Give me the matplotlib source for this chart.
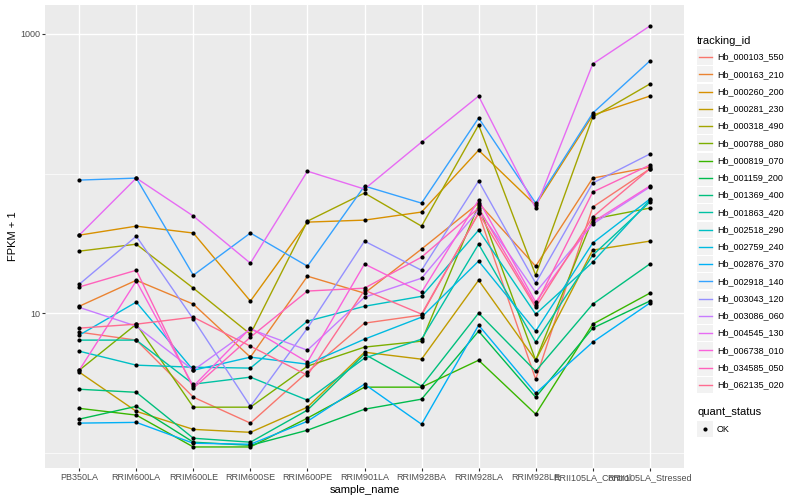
import matplotlib
matplotlib.use("Agg")
import matplotlib.pyplot as plt
import numpy as np
from matplotlib.lines import Line2D
from matplotlib.patches import Rectangle
from matplotlib.ticker import FixedLocator, NullFormatter

plt.rcParams["font.family"] = ["Liberation Sans", "DejaVu Sans"]

samples = ["PB350LA", "RRIM600LA", "RRIM600LE", "RRIM600SE", "RRIM600PE", "RRIM901LA",
           "RRIM928BA", "RRIM928LA", "RRIM928LE", "RRII105LA_Control", "RRII105LA_Stressed"]

tracking_ids = ["Hb_000103_550", "Hb_000163_210", "Hb_000260_200", "Hb_000281_230",
                "Hb_000318_490", "Hb_000788_080", "Hb_000819_070", "Hb_001159_200",
                "Hb_001369_400", "Hb_001863_420", "Hb_002518_290", "Hb_002759_240",
                "Hb_002876_370", "Hb_002918_140", "Hb_003043_120", "Hb_003086_060",
                "Hb_004545_130", "Hb_006738_010", "Hb_034585_050", "Hb_062135_020"]

# ggplot hue palette for 20 levels
colors = ["#F8766D", "#EA8331", "#D89000", "#C09B00", "#A3A500", "#7CAE00", "#39B600",
          "#00BB4E", "#00BF7D", "#00C1A3", "#00BFC4", "#00BAE0", "#00B0F6", "#35A2FF",
          "#9590FF", "#C77CFF", "#E76BF3", "#FA62DB", "#FF62BC", "#FF6C91"]

# FPKM + 1, one list per gene, in sample order
hb_000103_550 = [7.31, 6.41, 2.50, 1.63, 3.78, 8.48, 9.68, 52.1, 3.36, 57.5, 108]
hb_000163_210 = [11.2, 17.2, 11.6, 4.84, 18.4, 13.9, 28.8, 61.4, 21.7, 92.8, 111]
hb_000260_200 = [36.2, 42.0, 37.5, 12.2, 44.9, 46.4, 53.0, 147, 59.4, 262, 359]
hb_000281_230 = [3.78, 1.98, 1.47, 1.40, 2.12, 5.25, 4.68, 17.2, 4.60, 28.3, 32.8]
hb_000318_490 = [27.8, 31.2, 15.1, 7.07, 45.6, 72.5, 42.0, 223, 18.7, 254, 438]
hb_000788_080 = [3.90, 8.34, 2.12, 2.12, 4.17, 5.71, 6.30, 59.4, 4.60, 47.2, 56.6]
hb_000819_070 = [2.08, 1.86, 1.10, 1.10, 1.77, 2.95, 2.95, 4.60, 1.89, 8.34, 13.9]
hb_001159_200 = [1.74, 2.15, 1.19, 1.13, 1.45, 2.05, 2.42, 7.43, 2.50, 7.81, 12.2]
hb_001369_400 = [2.85, 2.71, 1.27, 1.19, 2.02, 5.08, 3.00, 10.0, 3.84, 11.6, 22.5]
hb_001863_420 = [6.41, 6.41, 3.10, 3.48, 2.38, 4.76, 6.51, 31.2, 6.20, 26.0, 62.4]
hb_002518_290 = [5.34, 4.24, 4.10, 4.04, 8.76, 11.2, 13.2, 39.3, 9.84, 23.2, 64.6]
hb_002759_240 = [6.96, 12.0, 3.90, 4.84, 4.31, 6.51, 9.36, 23.6, 7.43, 31.8, 65.6]
hb_002876_370 = [1.63, 1.65, 1.17, 1.15, 1.68, 3.10, 1.60, 8.20, 2.67, 6.20, 11.8]
hb_002918_140 = [89.8, 92.8, 18.7, 37.5, 21.7, 81.4, 61.4, 250, 61.4, 271, 640]
hb_003043_120 = [16.1, 35.6, 9.06, 2.15, 7.81, 32.8, 20.3, 88.4, 16.4, 85.5, 138]
hb_003086_060 = [11.0, 8.07, 3.90, 7.68, 5.43, 13.0, 17.8, 54.7, 14.1, 43.5, 80.0]
hb_004545_130 = [36.2, 92.8, 49.6, 22.8, 104, 77.4, 168, 359, 56.6, 610, 1140]
hb_006738_010 = [3.90, 17.0, 3.00, 7.81, 4.46, 22.5, 14.1, 64.6, 12.0, 44.9, 81.4]
hb_034585_050 = [15.4, 20.3, 2.90, 6.73, 14.4, 15.1, 25.2, 56.6, 11.4, 73.7, 115]
hb_062135_020 = [7.81, 8.34, 9.36, 5.80, 3.59, 14.6, 9.84, 52.1, 11.0, 48.8, 108]

fpkm = [hb_000103_550, hb_000163_210, hb_000260_200, hb_000281_230, hb_000318_490,
        hb_000788_080, hb_000819_070, hb_001159_200, hb_001369_400, hb_001863_420,
        hb_002518_290, hb_002759_240, hb_002876_370, hb_002918_140, hb_003043_120,
        hb_003086_060, hb_004545_130, hb_006738_010, hb_034585_050, hb_062135_020]

W, H = 800, 500
fig = plt.figure(figsize=(W / 100, H / 100), dpi=100)
# panel in pixels: left 45, right 684, top 5, bottom 468
ax = fig.add_axes([45 / W, 1 - 468 / H, (684 - 45) / W, (468 - 5) / H])
ax.set_facecolor("#EBEBEB")
for s in ax.spines.values():
    s.set_visible(False)

x = np.arange(len(samples))
for vals, c in zip(fpkm, colors):
    ax.plot(x, vals, color=c, lw=1.0, zorder=2, solid_capstyle="butt")
for vals in fpkm:
    ax.plot(x, vals, "o", color="black", ms=3.0, mew=0, zorder=3)

ax.set_yscale("log")
allv = np.concatenate([np.array(v) for v in fpkm])
lo, hi = np.log10(allv.min()), np.log10(allv.max())
pad = 0.05 * (hi - lo)
ax.set_ylim(10 ** (lo - pad), 10 ** (hi + pad))
ax.set_xlim(-0.6, len(samples) - 0.4)

ax.yaxis.set_major_locator(FixedLocator([10, 1000]))
ax.yaxis.set_minor_locator(FixedLocator([1, 100]))
ax.yaxis.set_minor_formatter(NullFormatter())
ax.set_yticklabels(["10", "1000"])
ax.set_xticks(x)
ax.set_xticklabels(samples)

ax.grid(which="major", color="white", lw=1.0)
ax.grid(which="minor", axis="y", color="white", lw=0.5)
ax.set_axisbelow(True)
ax.tick_params(which="major", length=2.0, width=0.8, color="#333333",
               labelcolor="#4D4D4D", labelsize=6.5, pad=1.6)
ax.tick_params(which="minor", length=0)

ax.set_xlabel("sample_name", fontsize=8, labelpad=2)
ax.set_ylabel("FPKM + 1", fontsize=8, labelpad=1.5)

# legend drawn in figure pixel positions
def fx(px):
    return px / W

def fy(py):
    return 1 - py / H

fig.text(fx(697), fy(41), "tracking_id", fontsize=8, va="center", ha="left")
step = 17.26
for i, (tid, c) in enumerate(zip(tracking_ids, colors)):
    yc = 57 + i * step
    fig.add_artist(Rectangle((fx(697), fy(yc + 8)), 16 / W, 16 / H,
                             transform=fig.transFigure, facecolor="#F2F2F2",
                             edgecolor="none"))
    fig.add_artist(Line2D([fx(698.5), fx(711.5)], [fy(yc), fy(yc)],
                          transform=fig.transFigure, color=c, lw=1.0))
    fig.text(fx(717), fy(yc), tid, fontsize=6.5, va="center", ha="left")

fig.text(fx(697), fy(412), "quant_status", fontsize=8, va="center", ha="left")
fig.add_artist(Rectangle((fx(697), fy(429 + 8)), 16 / W, 16 / H,
                         transform=fig.transFigure, facecolor="#F2F2F2",
                         edgecolor="none"))
fig.add_artist(Line2D([fx(705)], [fy(429)], transform=fig.transFigure,
                      marker="o", color="black", ms=3.0, mew=0))
fig.text(fx(717), fy(429), "OK", fontsize=6.5, va="center", ha="left")

fig.savefig("out.png", dpi=100)
